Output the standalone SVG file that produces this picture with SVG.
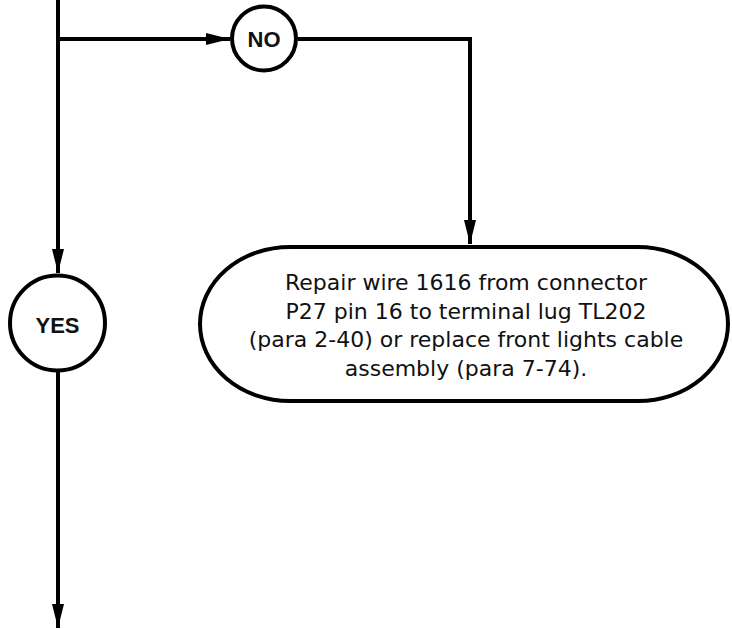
<svg xmlns="http://www.w3.org/2000/svg" width="732" height="629" viewBox="0 0 732 629">
<style>
.ln{fill:none;stroke:#000;stroke-width:4;stroke-linejoin:miter}
.nd{fill:#fff;stroke:#000;stroke-width:4}
.lbl{font-family:"Liberation Sans",Arial,sans-serif;font-weight:bold;font-size:22px;fill:#111;text-anchor:middle}
.txt{font-family:"DejaVu Sans",Verdana,sans-serif;font-size:22px;fill:#111;text-anchor:middle}
</style>
<defs>
<marker id="ah" viewBox="0 0 24 12" refX="24" refY="6" markerWidth="24" markerHeight="12" markerUnits="userSpaceOnUse" orient="auto">
<path d="M0,0 L24,6 L0,12 Z" fill="#000"/>
</marker>
</defs>
<g id="connectors">
<path class="ln" d="M58,0 V273" marker-end="url(#ah)"/>
<path class="ln" d="M58,39 H230" marker-end="url(#ah)"/>
<path class="ln" d="M298,39 H470 V244" marker-end="url(#ah)"/>
<path class="ln" d="M58,372 V628" marker-end="url(#ah)"/>
</g>
<g id="node-no">
<circle class="nd" cx="264" cy="38.5" r="32"/>
<text class="lbl" x="264" y="47">NO</text>
</g>
<g id="node-yes">
<circle class="nd" cx="57.5" cy="323" r="47.5"/>
<text class="lbl" x="57.5" y="333">YES</text>
</g>
<g id="node-repair">
<rect class="nd" x="200" y="247" width="528" height="154" rx="90" ry="77"/>
<text class="txt" x="466" y="290">Repair wire 1616 from connector</text>
<text class="txt" x="466" y="318.5">P27 pin 16 to terminal lug TL202</text>
<text class="txt" x="466" y="347">(para 2-40) or replace front lights cable</text>
<text class="txt" x="466" y="375.5">assembly (para 7-74).</text>
</g>
</svg>
